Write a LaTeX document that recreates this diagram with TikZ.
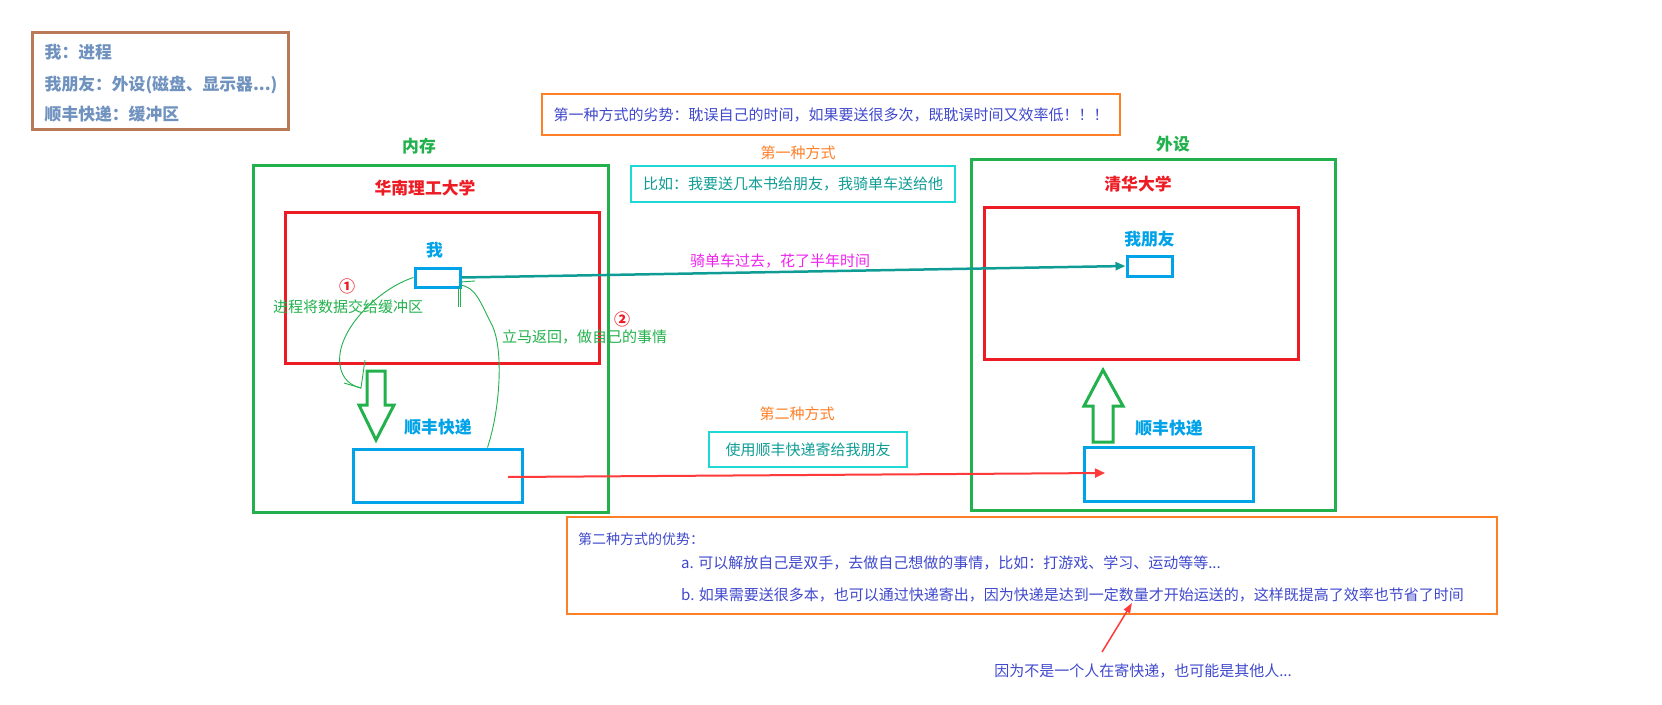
\documentclass[tikz,border=0pt]{standalone}
\usepackage{fontspec}
\setmainfont{Noto Sans CJK SC}
\usetikzlibrary{positioning,arrows.meta,calc}

\definecolor{pgreen}{HTML}{22B14C}
\definecolor{pred}{HTML}{ED1C24}
\definecolor{pblue}{HTML}{00A2E8}
\definecolor{pbrown}{HTML}{B97A57}
\definecolor{pgray}{HTML}{7092BE}
\definecolor{porange}{HTML}{FF7F27}
\definecolor{pindigo}{HTML}{3F48CC}
\definecolor{pcyan}{HTML}{1ED8D8}
\definecolor{pteal}{HTML}{0E9C94}
\definecolor{pmagenta}{HTML}{EE22EE}
\definecolor{parrow}{HTML}{FF3A3A}

\begin{document}
\begin{tikzpicture}[x=1pt, y=-1pt,
  box/.style={draw, line width=3pt, inner sep=0pt},
  thinbox/.style={draw, line width=1.2pt, inner sep=0pt},
  title/.style={font=\fontsize{16.8}{20}\selectfont\bfseries},
  txt/.style={font=\fontsize{15}{18}\selectfont},
  small/.style={font=\fontsize{14}{17}\selectfont},
  left/.style={anchor=west, inner sep=0pt},
  arr/.style={-{Triangle[length=10pt,width=8pt]}, line width=2.5pt},
  hand/.style={pgreen, line width=0.9pt}
]
\useasboundingbox (0,0) rectangle (1662,704);

% legend
\node[box, draw=pbrown, minimum width=256pt, minimum height=97pt] (legend) at (160,80.5) {};
\node[title, pgray, left] (lg1) at (44.5,52) {我：进程};
\node[title, pgray, left] (lg2) at (44.5,85) {我朋友：外设(磁盘、显示器...)};
\node[title, pgray, left] (lg3) at (44.5,114) {顺丰快递：缓冲区};

% memory side
\node[box, draw=pgreen, minimum width=355pt, minimum height=347pt] (mem) at (430.5,338.5) {};
\node[title, pgreen] (memlbl) at (419,146) {内存};
\node[box, draw=pred, minimum width=314pt, minimum height=151pt] (scut) at (442,287.5) {};
\node[title, pred] (scutlbl) at (425,188) {华南理工大学};
\node[box, draw=pblue, minimum width=45pt, minimum height=19pt] (me) at (437.5,277.5) {};
\node[title, pblue, above=5pt of me, xshift=-3pt] (melbl) {我};
\node[box, draw=pblue, minimum width=169pt, minimum height=53pt] (sfL) at (437.5,475.5) {};
\node[title, pblue] (sfLlbl) at (438,427) {顺丰快递};

% device side
\node[box, draw=pgreen, minimum width=364pt, minimum height=351pt] (dev) at (1153,334.5) {};
\node[title, pgreen] (devlbl) at (1173,144) {外设};
\node[box, draw=pred, minimum width=314pt, minimum height=152pt] (thu) at (1141,283) {};
\node[title, pred] (thulbl) at (1138,184) {清华大学};
\node[box, draw=pblue, minimum width=45pt, minimum height=20pt] (friend) at (1149.5,266) {};
\node[title, pblue, above=4pt of friend] (friendlbl) {我朋友};
\node[box, draw=pblue, minimum width=169pt, minimum height=54pt] (sfR) at (1168.5,474) {};
\node[title, pblue] (sfRlbl) at (1169,428) {顺丰快递};

% hollow arrows
\draw[pgreen, line width=3pt] (367,371) -- (385,371) -- (385,405) -- (394,405) -- (376,440)
  -- (359,405) -- (367,405) -- cycle;
\draw[pgreen, line width=3pt] (1093,442) -- (1113,442) -- (1113,406) -- (1123,406) -- (1103,370)
  -- (1084,406) -- (1093,406) -- cycle;

% step labels
\node[pred, font=\fontsize{16}{19}\selectfont\bfseries] (n1) at (347,286) {①};
\node[txt, pgreen] (hand1) at (348,307) {进程将数据交给缓冲区};
\node[pred, font=\fontsize{16}{19}\selectfont\bfseries] (n2) at (622,319) {②};
\node[txt, pgreen, left] (hand2) at (502,337) {立马返回，做自己的事情};

% hand drawn loops
\draw[hand] (me.west) .. controls (380,288) and (335,330) .. (340,365)
  .. controls (342,380) and (352,386) .. (361,388);
\draw[hand] (344,383) -- (361,388) -- (365,360);
\draw[hand] ($(sfL.north east)+(-36,0)$) .. controls (500,410) and (504,350) .. (492,325)
  .. controls (480,302) and (476,287) .. (460,285);
\draw[hand] (458,287) -- (458,307);
\draw[hand] (460.5,287) -- (460.5,307);
\draw[hand] (460,282) -- (475,281);

% first way
\node[thinbox, draw=porange, minimum width=578pt, minimum height=41pt,
  txt, text=pindigo] (bad) at (831,114.5) {第一种方式的劣势：耽误自己的时间，如果要送很多次，既耽误时间又效率低！！！};
\node[txt, porange] (way1) at (798,153) {第一种方式};
\node[thinbox, draw=pcyan, minimum width=324pt, minimum height=36pt,
  txt, text=pteal] (eg1) at (793,184) {比如：我要送几本书给朋友，我骑单车送给他};
\draw[arr, pteal] (me.east) -- (friend.west);
\node[txt, pmagenta] (bike) at (780,261) {骑单车过去，花了半年时间};

% second way
\node[txt, porange] (way2) at (797,414) {第二种方式};
\node[thinbox, draw=pcyan, minimum width=198pt, minimum height=35pt,
  txt, text=pteal] (eg2) at (808,449.5) {使用顺丰快递寄给我朋友};
\coordinate (sendA) at (508,477);
\coordinate (sendB) at (1105,473);
\draw[-{Triangle[length=10pt,width=9pt]}, line width=2pt, parrow] (sendA) -- (sendB);

% advantages
\node[thinbox, draw=porange, minimum width=930pt, minimum height=97pt] (good) at (1032,565.5) {};
\node[small, pindigo, left] (g0) at (578,539) {第二种方式的优势：};
\node[txt, pindigo, left] (ga) at (681,563) {a. 可以解放自己是双手，去做自己想做的事情，比如：打游戏、学习、运动等等...};
\node[txt, pindigo, left] (gb) at (681,595) {b. 如果需要送很多本，也可以通过快递寄出，因为快递是达到一定数量才开始运送的，这样既提高了效率也节省了时间};
\node[txt, pindigo] (note) at (1143,671) {因为不是一个人在寄快递，也可能是其他人...};
\coordinate (noteA) at (1102,652);
\coordinate (noteB) at (1132,603);
\draw[-{Triangle[length=10pt,width=7pt]}, line width=1.5pt, parrow] (noteA) -- (noteB);
\end{tikzpicture}
\end{document}
